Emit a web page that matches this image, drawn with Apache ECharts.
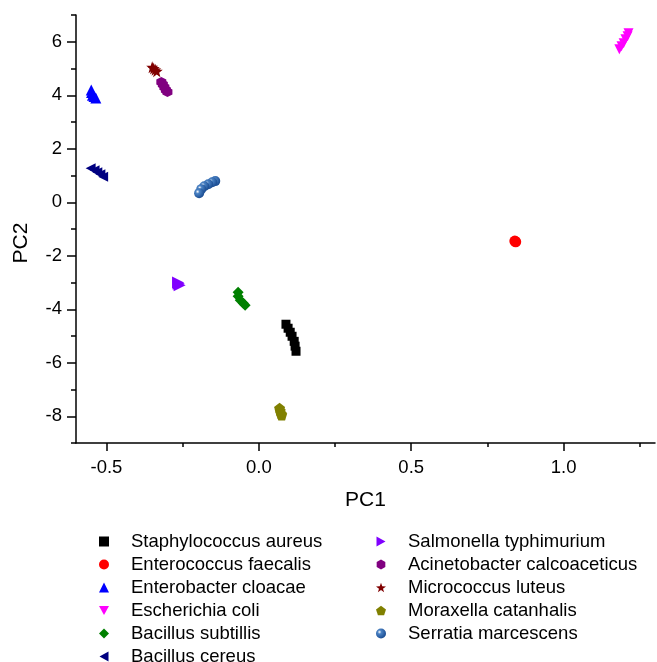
<!DOCTYPE html>
<html>
<head>
<meta charset="utf-8">
<script src="https://cdn.jsdelivr.net/npm/echarts@6/dist/echarts.min.js"></script>
<style>
  html, body { margin: 0; padding: 0; background: #fff; }
  #chart { width: 657px; height: 662px; }
</style>
</head>
<body>
<div id="chart"></div>
<script>
// PCA scores, one array per species
var staphylococcusAureus = [[0.089, -4.56], [0.096, -4.71], [0.103, -4.86], [0.109, -5.01], [0.116, -5.20], [0.119, -5.38], [0.122, -5.57]];
var enterococcusFaecalis = [[0.840, -1.45], [0.843, -1.48]];
var enterobacterCloacae = [[-0.550, 4.20], [-0.549, 4.10], [-0.546, 4.00], [-0.541, 3.95], [-0.535, 3.90]];
var escherichiaColi = [[1.213, 6.32], [1.210, 6.21], [1.203, 6.09], [1.197, 5.94], [1.190, 5.83], [1.183, 5.72]];
var bacillusSubtillis = [[-0.068, -3.36], [-0.068, -3.51], [-0.061, -3.66], [-0.051, -3.78], [-0.045, -3.85]];
var bacillusCereus = [[-0.552, 1.27], [-0.539, 1.20], [-0.530, 1.12], [-0.520, 1.05], [-0.511, 0.95]];
var salmonellaTyphimurium = [[-0.265, -3.00], [-0.263, -3.05], [-0.260, -3.10]];
var acinetobacterCalcoaceticus = [[-0.320, 4.50], [-0.315, 4.40], [-0.310, 4.30], [-0.305, 4.20], [-0.300, 4.12]];
var micrococcusLuteus = [[-0.350, 5.05], [-0.345, 5.00], [-0.340, 4.95], [-0.335, 4.90]];
var moraxellaCatanhalis = [[0.068, -7.70], [0.070, -7.80], [0.073, -7.90], [0.075, -7.95]];
var serratiaMarcescens = [[-0.143, 0.79], [-0.153, 0.75], [-0.166, 0.67], [-0.179, 0.60], [-0.189, 0.49], [-0.196, 0.34]];

var speciesNames = [
  "Staphylococcus aureus", "Enterococcus faecalis", "Enterobacter cloacae",
  "Escherichia coli", "Bacillus subtillis", "Bacillus cereus",
  "Salmonella typhimurium", "Acinetobacter calcoaceticus", "Micrococcus luteus",
  "Moraxella catanhalis", "Serratia marcescens"
];
var speciesData = [
  staphylococcusAureus, enterococcusFaecalis, enterobacterCloacae,
  escherichiaColi, bacillusSubtillis, bacillusCereus,
  salmonellaTyphimurium, acinetobacterCalcoaceticus, micrococcusLuteus,
  moraxellaCatanhalis, serratiaMarcescens
];

// axis ticks
var xMajorTicks = [-0.5, 0, 0.5, 1.0];
var xMinorTicks = [-0.25, 0.25, 0.75, 1.25];
var yMajorTicks = [-8, -6, -4, -2, 0, 2, 4, 6];
var yMinorTicks = [-9, -7, -5, -3, -1, 1, 3, 5, 7];

var FONT = "Liberation Sans, Arial, sans-serif";

var ball = new echarts.graphic.RadialGradient(0.35, 0.35, 0.65, [
  { offset: 0, color: "#ffffff" },
  { offset: 0.3, color: "#4a82c4" },
  { offset: 1, color: "#1d4f94" }
]);

var colors = ["#000000", "#ff0000", "#0000ff", "#ff00ff", "#008000", "#000080",
  "#8000ff", "#800080", "#800000", "#808000", ball];

var symbols = [
  "rect",
  "circle",
  "triangle",
  "path://M0,0 L10,0 L5,9 Z",
  "diamond",
  "path://M0,5 L9,0 L9,10 Z",
  "path://M0,0 L9,5 L0,10 Z",
  "path://M5,0 L9.33,2.5 L9.33,7.5 L5,10 L0.67,7.5 L0.67,2.5 Z",
  "path://M10,0 L12.35,6.76 L19.51,6.91 L13.8,11.24 L15.88,18.09 L10,14 L4.12,18.09 L6.2,11.24 L0.49,6.91 L7.65,6.76 Z",
  "path://M10,0 L19.51,6.91 L15.88,18.09 L4.12,18.09 L0.49,6.91 Z",
  "circle"
];
var sizes = [9, 11, 11, 10, 11, 10, 12, 10, 12, 11, 10];

var series = [];
for (var i = 0; i < speciesNames.length; i++) {
  series.push({
    name: speciesNames[i],
    type: "scatter",
    data: speciesData[i],
    symbol: symbols[i],
    symbolSize: sizes[i],
    itemStyle: { color: colors[i], opacity: 1 },
    emphasis: { disabled: true }
  });
}

var tickLine = { color: "#000", width: 1.5 };

function baseAxis(extra) {
  var ax = {
    type: "value",
    splitLine: { show: false },
    axisLine: { onZero: false, lineStyle: { color: "#000", width: 1.5 } },
    axisLabel: { color: "#000", fontSize: 18.5, fontFamily: FONT }
  };
  for (var k in extra) ax[k] = extra[k];
  return ax;
}

var legendText = { color: "#000", fontSize: 18.5, fontFamily: FONT, padding: [0, 0, 0, 17] };

var chart = echarts.init(document.getElementById("chart"), null, { renderer: "canvas" });
chart.setOption({
  animation: false,
  backgroundColor: "#fff",
  grid: { left: 76, right: 2, top: 15, bottom: 219, containLabel: false },
  xAxis: [
    baseAxis({
      min: -0.6, max: 1.3, position: "bottom",
      name: "PC1", nameLocation: "middle", nameGap: 47,
      nameTextStyle: { color: "#000", fontSize: 21, fontFamily: FONT },
      axisTick: { customValues: xMajorTicks, length: 8, lineStyle: tickLine },
      axisLabel: {
        customValues: xMajorTicks, margin: 15, color: "#000", fontSize: 18.5, fontFamily: FONT,
        formatter: function (v) { return v.toFixed(1); }
      }
    }),
    baseAxis({
      min: -0.6, max: 1.3, position: "bottom",
      axisLine: { show: false, onZero: false },
      axisTick: { customValues: xMinorTicks, length: 4, lineStyle: tickLine },
      axisLabel: { show: false }
    })
  ],
  yAxis: [
    baseAxis({
      min: -9, max: 7, position: "left",
      name: "PC2", nameLocation: "middle", nameGap: 44,
      nameTextStyle: { color: "#000", fontSize: 21, fontFamily: FONT, padding: [0, 28, 0, 0] },
      axisTick: { customValues: yMajorTicks, length: 9, lineStyle: tickLine },
      axisLabel: { customValues: yMajorTicks, margin: 14, color: "#000", fontSize: 18.5, fontFamily: FONT }
    }),
    baseAxis({
      min: -9, max: 7, position: "left",
      axisLine: { show: false, onZero: false },
      axisTick: { customValues: yMinorTicks, length: 5, lineStyle: tickLine },
      axisLabel: { show: false }
    })
  ],
  legend: [
    {
      orient: "vertical", left: 99, top: 532, height: 160, padding: 0, itemWidth: 10, itemHeight: 10, itemGap: 4,
      data: speciesNames.slice(0, 6), textStyle: legendText, selectedMode: false
    },
    {
      orient: "vertical", left: 376, top: 532, height: 160, padding: 0, itemWidth: 10, itemHeight: 10, itemGap: 4,
      data: speciesNames.slice(6), textStyle: legendText, selectedMode: false
    }
  ],
  series: series
});
</script>
</body>
</html>
